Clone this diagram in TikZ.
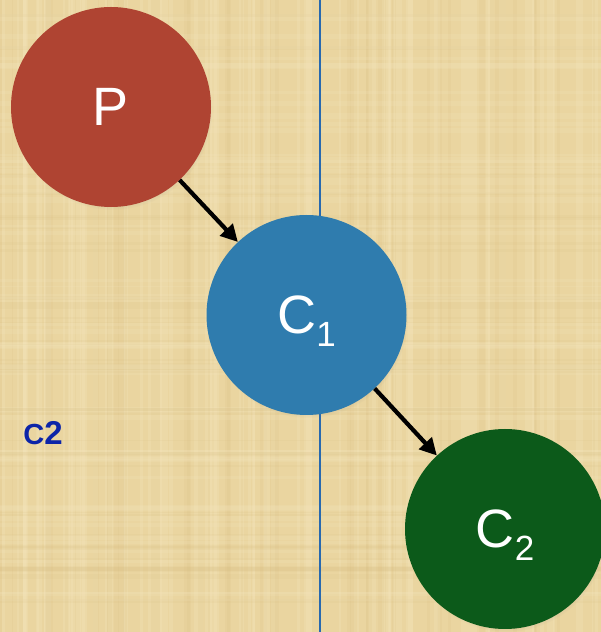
\documentclass[tikz,border=0pt]{standalone}
\usepackage{fontspec}
\setmainfont{Liberation Sans}
\usetikzlibrary{arrows.meta,shadows}
\definecolor{bgbase}{RGB}{234,213,160}
\definecolor{bglight}{RGB}{245,231,190}
\definecolor{bgdark}{RGB}{212,186,124}
\definecolor{pred}{RGB}{175,68,50}
\definecolor{cblue}{RGB}{47,124,174}
\definecolor{cgreen}{RGB}{12,90,26}
\definecolor{vline}{RGB}{40,105,175}
\definecolor{lblblue}{RGB}{12,36,168}
\tikzset{
  ball/.style={circle, minimum size=200pt, inner sep=0pt, text=white,
    font=\fontsize{54}{54}\selectfont,
    circular drop shadow={shadow xshift=1.5pt, shadow yshift=-3pt, opacity=0.35, shadow scale=1.0}},
  link/.style={line width=4.2pt, black, -{Triangle[length=17pt,width=17pt]}},
}
\newcommand{\mysub}[1]{\smash{\raisebox{-13pt}{\fontsize{35}{35}\selectfont #1}}}
\begin{document}
\begin{tikzpicture}[x=1pt,y=1pt]
  \useasboundingbox (0,0) rectangle (601,632);
  \begin{scope}
    \clip (0,0) rectangle (601,632);
    % papyrus-like background
    \fill[bgbase] (0,0) rectangle (601,632);
    \pgfmathsetseed{7}
    \foreach \i in {1,...,70} {
      \pgfmathsetmacro\xx{rnd*601}
      \pgfmathsetmacro\ww{1+rnd*7}
      \fill[bglight,opacity=0.25] (\xx,0) rectangle ++(\ww,632);
    }
    \foreach \i in {1,...,50} {
      \pgfmathsetmacro\xx{rnd*601}
      \pgfmathsetmacro\ww{1+rnd*5}
      \fill[bgdark,opacity=0.12] (\xx,0) rectangle ++(\ww,632);
    }
    \foreach \i in {1,...,60} {
      \pgfmathsetmacro\yy{rnd*632}
      \pgfmathsetmacro\hh{1+rnd*5}
      \fill[bglight,opacity=0.18] (0,\yy) rectangle ++(601,\hh);
    }
    \foreach \i in {1,...,40} {
      \pgfmathsetmacro\yy{rnd*632}
      \pgfmathsetmacro\hh{1+rnd*4}
      \fill[bgdark,opacity=0.10] (0,\yy) rectangle ++(601,\hh);
    }
    % vertical line
    \coordinate (lt) at (320,632);
    \coordinate (lb) at (320,0);
    \draw[vline, line width=1.3pt] (lt) -- (lb);
    % circles
    \node[ball, fill=pred]   (P)  at (111,525)   {P};
    \node[ball, fill=cblue]  (C1) at (306.5,317) {C\mysub{1}};
    \node[ball, fill=cgreen] (C2) at (505,103)   {C\mysub{2}};
    % arrows
    \draw[link] (P) -- (C1);
    \draw[link] (C1) -- (C2);
    % label
    \node[text=lblblue, font=\bfseries\fontsize{33}{33}\selectfont, inner sep=0pt] (lbl) at (43,199) {\scalebox{0.88}{C}2};
  \end{scope}
\end{tikzpicture}
\end{document}
